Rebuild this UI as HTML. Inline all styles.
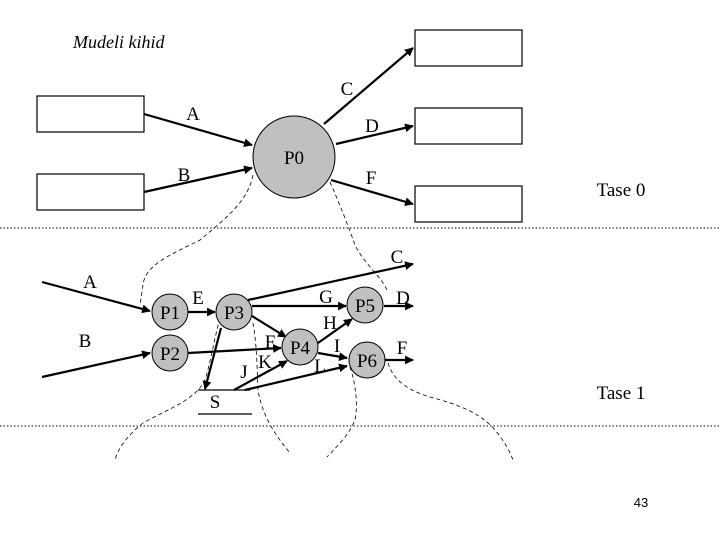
<!DOCTYPE html>
<html><head><meta charset="utf-8"><style>
html,body{margin:0;padding:0;background:#fff;}
svg{display:block;font-family:"Liberation Serif",serif;}
</style></head><body>
<svg width="720" height="540" viewBox="0 0 720 540" xmlns="http://www.w3.org/2000/svg">
<defs><marker id="a" viewBox="0 0 10 10" refX="9" refY="5" markerWidth="4" markerHeight="4" orient="auto"><path d="M0,0L10,5L0,10z" fill="#000"/></marker></defs>
<text x="73" y="48" font-size="18" font-style="italic">Mudeli kihid</text>
<g fill="#fff" stroke="#000" stroke-width="1.2">
<rect x="37" y="96" width="107" height="36"/><rect x="37" y="174" width="107" height="36"/>
<rect x="415" y="30" width="107" height="36"/><rect x="415" y="108" width="107" height="36"/><rect x="415" y="186" width="107" height="36"/>
</g>
<g stroke="#000" stroke-width="0.9" stroke-dasharray="1.5,2">
<line x1="0" y1="228" x2="720" y2="228"/><line x1="0" y1="426" x2="720" y2="426"/>
</g>
<g fill="none" stroke="#000" stroke-width="0.8" stroke-dasharray="4,3">
<path d="M253,175 C248,200 230,215 200,240 C170,255 145,265 143,285 L140,305"/>
<path d="M220,318 C214,340 210,365 205,380 C195,400 170,408 143,423 C128,435 118,448 115,460"/>
<path d="M253,323 C257,345 257,370 258,390 C262,415 275,435 290,453"/>
<path d="M330,182 C338,200 348,225 355,245 C365,265 380,275 387,290"/>
<path d="M350,367 C356,385 358,405 355,420 C348,437 335,448 327,457"/>
<path d="M388,363 C392,375 400,388 430,397 C460,405 480,413 495,430 C505,442 510,452 513,460"/>
</g>
<g stroke="#000" stroke-width="2.2" fill="none" marker-end="url(#a)">
<line x1="144" y1="114" x2="252" y2="145"/>
<line x1="144" y1="192" x2="252" y2="168"/>
<line x1="324" y1="124" x2="413" y2="48"/>
<line x1="336" y1="144" x2="413" y2="126"/>
<line x1="331" y1="180" x2="413" y2="204"/>
<line x1="42" y1="282" x2="150" y2="311"/>
<line x1="42" y1="377" x2="150" y2="353"/>
<line x1="188" y1="312" x2="215" y2="312"/>
<line x1="248" y1="300" x2="413" y2="264"/>
<line x1="252" y1="306" x2="346" y2="306"/>
<line x1="384" y1="306" x2="413" y2="306"/>
<line x1="252" y1="316" x2="286" y2="337"/>
<line x1="188" y1="353" x2="281" y2="348"/>
<line x1="221" y1="328" x2="205" y2="389"/>
<line x1="234" y1="390" x2="287" y2="361"/>
<line x1="245" y1="390" x2="347" y2="366"/>
<line x1="318" y1="343" x2="352" y2="319"/>
<line x1="318" y1="353" x2="347" y2="358"/>
<line x1="384" y1="360" x2="413" y2="360"/>
</g>
<g stroke="#000" stroke-width="1.2"><line x1="198" y1="390" x2="250" y2="390"/><line x1="198" y1="414" x2="252" y2="414"/></g>
<g fill="#c0c0c0" stroke="#000" stroke-width="1">
<circle cx="294" cy="157" r="41"/>
<circle cx="170" cy="312" r="18"/><circle cx="170" cy="353" r="18"/><circle cx="234" cy="312" r="18"/>
<circle cx="300" cy="347" r="18"/><circle cx="365" cy="305" r="18"/><circle cx="367" cy="360" r="18"/>
</g>
<g font-size="19" text-anchor="middle">
<text x="294" y="164">P0</text>
<text x="170" y="319">P1</text><text x="170" y="360">P2</text><text x="234" y="319">P3</text>
<text x="300" y="354">P4</text><text x="365" y="312">P5</text><text x="367" y="367">P6</text>
<text x="193" y="120">A</text><text x="347" y="95">C</text><text x="372" y="132">D</text>
<text x="184" y="181">B</text><text x="371" y="184">F</text>
<text x="90" y="288">A</text><text x="85" y="347">B</text><text x="397" y="263">C</text>
<text x="198" y="304">E</text><text x="326" y="303">G</text><text x="403" y="304">D</text>
<text x="330" y="329">H</text><text x="270" y="348">F</text><text x="337" y="352">I</text>
<text x="265" y="368">K</text><text x="320" y="372">L</text><text x="244" y="378">J</text>
<text x="215" y="408">S</text><text x="402" y="354">F</text>
<text x="621" y="196">Tase 0</text><text x="621" y="399">Tase 1</text>
</g>
<text x="641" y="507" font-size="13" text-anchor="middle" font-family="Liberation Sans, sans-serif">43</text>
</svg>
</body></html>
